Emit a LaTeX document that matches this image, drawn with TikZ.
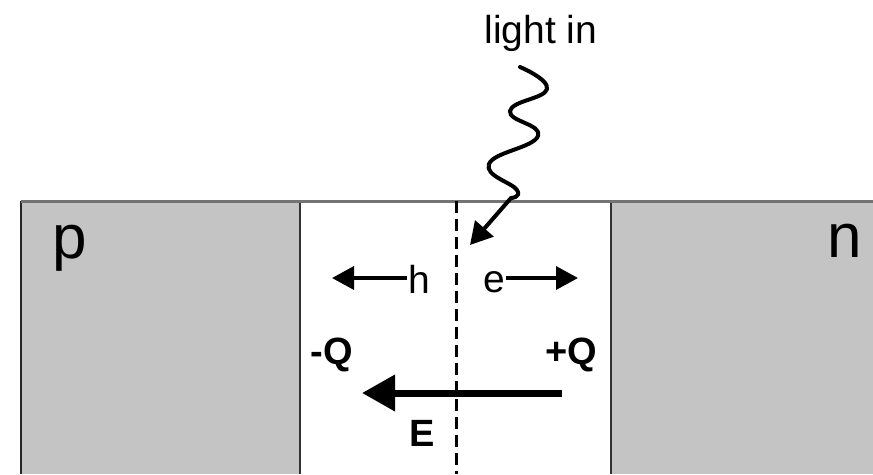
\documentclass[tikz,border=0pt]{standalone}
\usepackage{fontspec}
\setmainfont{Liberation Sans}
\usetikzlibrary{arrows.meta}

\begin{document}
\begin{tikzpicture}[x=1pt,y=-1pt,
  lbl/.style={inner sep=1pt,anchor=base,font=\fontsize{39}{44}\selectfont},
  charge/.style={lbl,font=\fontsize{38}{44}\selectfont\bfseries},
  side/.style={lbl,font=\fontsize{62}{70}\selectfont},
  carrier/.style={line width=3.5pt,-{Triangle[length=22pt,width=23pt]}},
  field/.style={line width=7pt,-{Triangle[length=33pt,width=35pt]}},
  photon/.style={line width=4pt,line join=round,line cap=round}]
\useasboundingbox (0,0) rectangle (873,474);

% p and n sides, depletion region in between
\fill[black!23] (21,201) rectangle (300,474);
\fill[black!23] (611,201) rectangle (873,474);
\draw[line width=2pt,black!85] (21,474) -- (21,201);
\draw[line width=2pt,black!80] (300,201) -- (300,474);
\draw[line width=2pt,black!80] (611,201) -- (611,474);
\draw[line width=3pt,black!55] (21,201) -- (873,201);
\draw[line width=3pt,dash pattern=on 12pt off 6pt] (456,201) -- (456,474);

\node[side] (p) at (70,258) {p};
\node[side] (n) at (845,257) {n};

\node[lbl] (light) at (541,43) {light in};
\node[lbl] (h) at (419,293) {h};
\node[lbl] (e) at (494,292) {e};
\node[charge] (qm) at (332,364) {-Q};
\node[charge] (qp) at (571,364) {+Q};
\node[charge] (E) at (422,446) {E};

% carriers drifting apart
\coordinate (htip) at (332,278);
\coordinate (etip) at (578,278);
\draw[carrier] (h.west |- htip) -- (htip);
\draw[carrier] (e.east |- etip) -- (etip);

% field
\coordinate (Efrom) at (562,393);
\coordinate (Eto) at (362,393);
\draw[field] (Efrom) -- (Eto);

% incoming photon
\coordinate (wtop) at (520,67);
\coordinate (wbot) at (511,198);
\coordinate (ltip) at (470,245);
\draw[photon] plot[smooth,tension=0.8] coordinates {(wtop) (547,89) (510,111) (538,136) (489,164) (517,190) (wbot)};
\draw[photon,line cap=butt,-{Triangle[length=22pt,width=24pt]}] (wbot) -- (ltip);
\end{tikzpicture}
\end{document}
